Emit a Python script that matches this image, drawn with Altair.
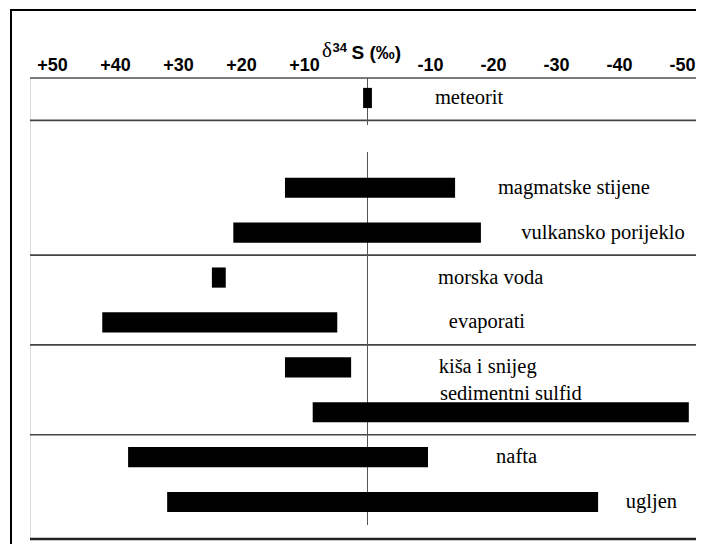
import altair as alt
import pandas as pd

# --- data (delta-34S, per mil) ---
sources = ["meteorit", "magmatske stijene", "vulkansko porijeklo", "morska voda",
           "evaporati", "kiša i snijeg", "sedimentni sulfid", "nafta", "ugljen"]
d34s_high = [0.7, 13.1, 21.3, 24.7, 42.1, 13.1, 8.7, 38.0, 31.8]
d34s_low = [-0.7, -13.9, -18.0, 22.5, 4.8, 2.6, -51.0, -9.6, -36.6]
label_at = [-10.7, -20.7, -24.4, -11.2, -12.9, -11.3, -11.5, -20.4, -41.0]
tick_values = [50, 40, 30, 20, 10, -10, -20, -30, -40, -50]
spacer = " "
row_order = [sources[0], spacer] + sources[1:]
group_starts = [spacer, "morska voda", "kiša i snijeg", "nafta"]

df = pd.DataFrame({"source": sources, "hi": d34s_high, "lo": d34s_low, "lab": label_at})
ticks_df = pd.DataFrame({"v": tick_values})
sep_df = pd.DataFrame({"source": group_starts})
one = pd.DataFrame({"zero": [0]})

SERIF = "Liberation Serif"
SANS = "Liberation Sans"

W, H = 666, 461
xscale = alt.Scale(domain=[53.57, -52.14], nice=False, zero=False)
yscale = alt.Scale(domain=row_order, range=[0, 444], paddingInner=0.55, paddingOuter=0.22)

bars = alt.Chart(df).mark_bar(color="black").encode(
    x=alt.X("hi:Q", scale=xscale, axis=None),
    x2="lo:Q",
    y=alt.Y("source:N", scale=yscale, axis=None),
)

tick_labels = alt.Chart(ticks_df).transform_calculate(
    lbl="(datum.v > 0 ? '+' : '-') + abs(datum.v)"
).mark_text(align="center", baseline="alphabetic", font=SANS, fontWeight="bold",
            fontSize=18, color="black").encode(
    x=alt.X("v:Q", scale=xscale, axis=None),
    y=alt.value(-7),
    text="lbl:N",
)

labels = alt.Chart(df).transform_filter(
    alt.datum.source != "sedimentni sulfid"
).mark_text(align="left", baseline="middle", font=SERIF,
            fontSize=20.5, color="black").encode(
    x=alt.X("lab:Q", scale=xscale, axis=None),
    y=alt.Y("source:N", scale=yscale, axis=None),
    text="source:N",
)

label_above = alt.Chart(df).transform_filter(
    alt.datum.source == "sedimentni sulfid"
).mark_text(align="left", baseline="middle", font=SERIF,
            fontSize=20.5, color="black", dy=-18).encode(
    x=alt.X("lab:Q", scale=xscale, axis=None),
    y=alt.Y("source:N", scale=yscale, axis=None),
    text="source:N",
)

separators = alt.Chart(sep_df).mark_rule(color="#444", strokeWidth=1.6, yOffset=-12.35).encode(
    y=alt.Y("source:N", scale=yscale, axis=None, bandPosition=0),
    x=alt.value(0), x2=alt.value(W),
)
top_line = alt.Chart(one).mark_rule(color="#555", strokeWidth=1.6).encode(
    y=alt.value(0), x=alt.value(0), x2=alt.value(W))
bottom_line = alt.Chart(one).mark_rule(color="#222", strokeWidth=2.6).encode(
    y=alt.value(H), x=alt.value(0), x2=alt.value(W))

zero1 = alt.Chart(one).mark_rule(color="#555", strokeWidth=1).encode(
    x=alt.X("zero:Q", scale=xscale, axis=None), y=alt.value(0), y2=alt.value(47))
zero2 = alt.Chart(one).mark_rule(color="#555", strokeWidth=1).encode(
    x=alt.X("zero:Q", scale=xscale, axis=None), y=alt.value(74), y2=alt.value(447))

frame_top = alt.Chart(one).mark_rule(color="black", strokeWidth=2).encode(
    y=alt.value(-68), x=alt.value(-19), x2=alt.value(W))
frame_left = alt.Chart(one).mark_rule(color="black", strokeWidth=2).encode(
    x=alt.value(-19), y=alt.value(-69), y2=alt.value(H + 5))

t_delta = alt.Chart(one).mark_text(align="left", baseline="alphabetic",
                                   font=SERIF, fontSize=21, dx=-45.5,
                                   color="black").encode(
    x=alt.X("zero:Q", scale=xscale, axis=None), y=alt.value(-21), text=alt.value("δ"))
t_sup = alt.Chart(one).mark_text(align="left", baseline="alphabetic",
                                 font=SANS, fontWeight="bold", fontSize=13,
                                 dx=-35, color="black").encode(
    x=alt.X("zero:Q", scale=xscale, axis=None), y=alt.value(-26), text=alt.value("34"))
t_s = alt.Chart(one).mark_text(align="left", baseline="alphabetic",
                               font=SANS, fontWeight="bold", fontSize=19,
                               dx=-16, color="black").encode(
    x=alt.X("zero:Q", scale=xscale, axis=None), y=alt.value(-19), text=alt.value("S (‰)"))

chart = alt.layer(
    frame_top, frame_left, top_line, separators, bottom_line, zero1, zero2,
    bars, tick_labels, labels, label_above, t_delta, t_sup, t_s
).properties(
    width=W, height=H,
    autosize=alt.AutoSizeParams(type="none"),
    padding={"left": 22, "top": 70, "right": 0, "bottom": 5},
).configure_view(stroke=None, strokeWidth=0).configure(background="white")

chart.save("out.html", embed_options={"renderer": "svg", "actions": False})
